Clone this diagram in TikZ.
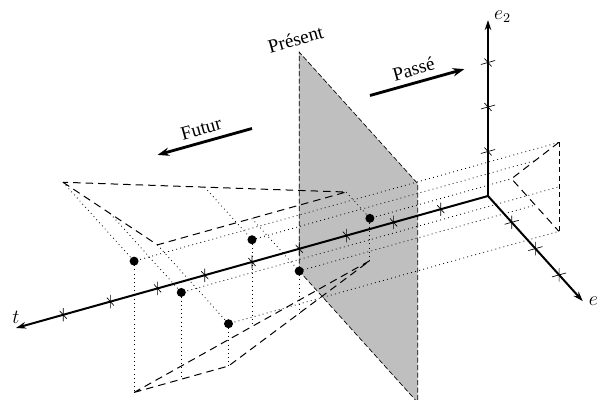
\documentclass[tikz,border=0pt]{standalone}
\usepackage{fontspec}
\setmainfont{Liberation Serif}
\usepackage{tikz}
\usetikzlibrary{arrows.meta, calc}
\definecolor{presentgray}{RGB}{191, 191, 191}

\begin{document}
\begin{tikzpicture}[x={(-28.32pt,-7.92pt)}, y={(14.22pt,-15.78pt)}, z={(0pt,26.7pt)},
    font=\fontsize{11.5}{14}\selectfont,
    axisline/.style={line width=1.2pt, -{Stealth[length=6pt, width=4pt]}},
    tickline/.style={line width=0.4pt},
    projline/.style={dotted, line width=0.5pt},
    shadowline/.style={dash pattern=on 4.5pt off 3pt, line width=0.6pt},
    timearrow/.style={line width=1.7pt, -{Stealth[length=7pt, width=5pt]}},
    datadot/.style={circle, fill=black, inner sep=0pt, minimum size=5.4pt}]
    \useasboundingbox (-292.8pt,-122.4pt) rectangle (68.4pt,117.6pt);

    % present plane
    \fill[presentgray] (4,0,-0.5) -- (4,0,4.42) -- (4,5,4.42) -- (4,5,-0.5) -- cycle;
    \draw[dash pattern=on 3pt off 1.5pt, line width=0.4pt] (4,0,-0.5) -- (4,0,4.42) -- (4,5,4.42) -- (4,5,-0.5) -- cycle;
    \node[rotate=15.6, anchor=south, yshift=0.5pt] (present) at (4,0,4.42) {Présent};

    % points and their projections
    \foreach \n/\t/\e/\h in {A/8/1/1.5, B/7/1/0.5, C/6/1/-0.5, D/5/0/0.5, E/4/0/-0.5, F/2/-1/-0.5} {
        \coordinate (\n) at (\t,\e,\h);
        \coordinate (\n w) at (\t,-2,\h);
        \coordinate (\n b) at (-1,\e,\h);
        \coordinate (\n f) at (\t,\e,-1.45);
        \draw[projline] (\n w) -- (\n) -- (\n b);
        \draw[projline] (\n) -- (\n f);
    }
    \draw[shadowline] (Aw) -- (Cw) -- (Fw) -- cycle;
    \draw[shadowline] (Ab) -- (Fb) -- (Cb);
    \draw[dash pattern=on 3pt off 2pt, line width=0.4pt] (Ab) -- (Cb);
    \draw[shadowline] (Af) -- (Cf) -- (Ff) -- cycle;

    % axes
    \coordinate (O) at (0,0,0);
    \draw[axisline] (O) -- (10,0,0) node[above, inner sep=2pt] (tlabel) {$t$};
    \draw[axisline] (O) -- (0,4,0) node[right, inner sep=3pt] (elabel) {$e$};
    \draw[axisline] (O) -- (0,0,3.95) node[right, yshift=2pt, inner sep=3pt] (etwolabel) {$e_2$};
    \foreach \i in {1,...,9}
        \draw[tickline] (\i,0,-0.15) -- (\i,0,0.15) (\i,-0.15,0) -- (\i,0.15,0);
    \foreach \i in {1,2,3} {
        \draw[tickline] (-0.15,\i,0) -- (0.15,\i,0) (0,\i,-0.15) -- (0,\i,0.15);
        \draw[tickline] (-0.15,0,\i) -- (0.15,0,\i) (0,-0.15,\i) -- (0,0.15,\i);
    }

    \foreach \n in {A,...,F}
        \node[datadot] (\n dot) at (\n) {};

    % time direction
    \draw[timearrow] (5,0,3) -- (7,0,3) node[midway, above, sloped] (futur) {Futur};
    \draw[timearrow] (2.5,0,3) -- (0.5,0,3) node[midway, above, sloped] (passe) {Passé};
\end{tikzpicture}
\end{document}
